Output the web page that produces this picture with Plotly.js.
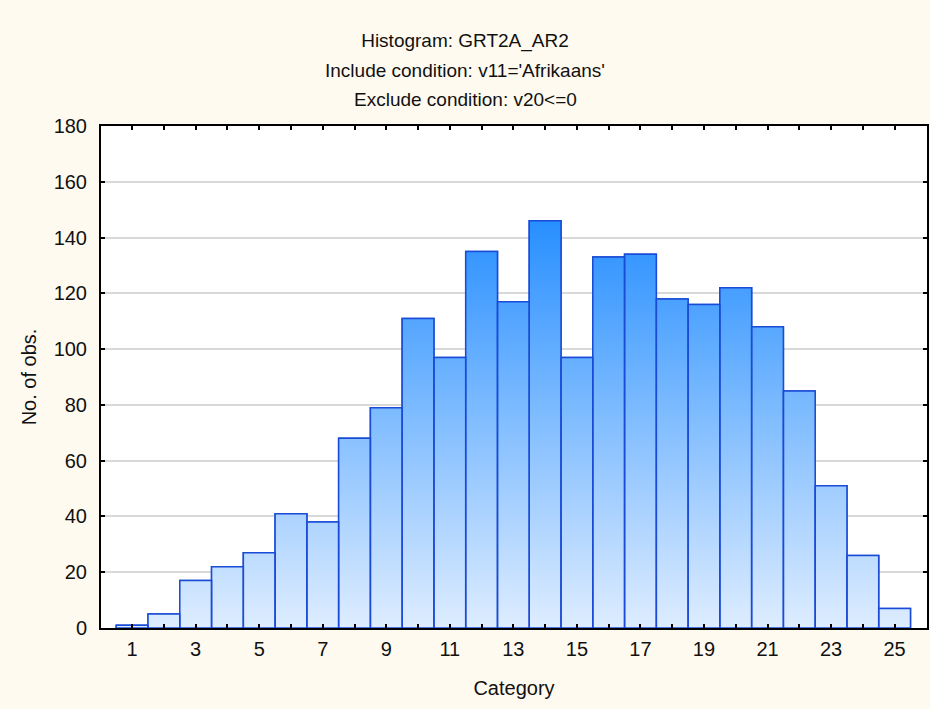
<!DOCTYPE html>
<html>
<head>
<meta charset="utf-8">
<script src="https://cdn.plot.ly/plotly-3.0.1.min.js"></script>
<style>html,body{margin:0;padding:0;background:#FFFAF0;}#chart{width:930px;height:709px;}</style>
</head>
<body>
<div id="chart"></div>
<script>
// Data
var categories = [1,2,3,4,5,6,7,8,9,10,11,12,13,14,15,16,17,18,19,20,21,22,23,24,25];
var counts = [1,5,17,22,27,41,38,68,79,111,97,135,117,146,97,133,134,118,116,122,108,85,51,26,7];
var xTickVals = categories;
var xTickText = categories.map(function(c){ return c % 2 === 1 ? String(c) : ''; });
var titleLines = ["Histogram: GRT2A_AR2", "Include condition: v11='Afrikaans'", "Exclude condition: v20<=0"];
var xTitle = "Category";
var yTitle = "No. of obs.";

// Build gradient-filled bar outlines from the data
var px = [], py = [];
for (var i = 0; i < categories.length; i++) {
  var c = categories[i], v = counts[i];
  px.push(c - 0.5, c - 0.5, c + 0.5, c + 0.5, c - 0.5, null);
  py.push(0, v, v, 0, 0, null);
}

var fillTrace = {
  type: 'scatter', mode: 'lines', x: px, y: py,
  fill: 'toself',
  fillgradient: {type: 'vertical', start: 0, stop: 146,
    colorscale: [[0, 'rgb(222,237,255)'], [1, 'rgb(40,143,255)']]},
  line: {color: 'rgb(25,75,215)', width: 1.5},
  hoverinfo: 'skip', showlegend: false, connectgaps: false
};

var barTrace = {
  type: 'bar', x: categories, y: counts, width: 1,
  marker: {color: 'rgba(0,0,0,0)', line: {color: 'rgb(25,75,215)', width: 1.5}},
  showlegend: false
};

var font = {family: 'Liberation Sans, Arial, sans-serif', size: 20, color: '#111'};
var titleFont = {family: 'Liberation Sans, Arial, sans-serif', size: 19, color: '#111'};

var layout = {
  width: 930, height: 709,
  paper_bgcolor: '#FFFAF0', plot_bgcolor: '#FFFFFF',
  margin: {l: 101, r: 3, t: 126, b: 81},
  font: font,
  showlegend: false,
  bargap: 0,
  title: {text: titleLines[0], x: 0.5, xref: 'container', xanchor: 'center',
          y: 1 - 40/709, yref: 'container', yanchor: 'middle', font: titleFont},
  annotations: [
    {text: titleLines[1], xref: 'paper', yref: 'paper', x: (465-101)/826, y: (628-70)/502,
     xanchor: 'center', yanchor: 'middle', showarrow: false, font: titleFont},
    {text: titleLines[2], xref: 'paper', yref: 'paper', x: (465-101)/826, y: (628-99)/502,
     xanchor: 'center', yanchor: 'middle', showarrow: false, font: titleFont}
  ],
  xaxis: {
    range: [0.02, 26.02], tickmode: 'array', tickvals: xTickVals, ticktext: xTickText,
    ticks: 'inside', ticklen: 4, tickwidth: 2, tickcolor: '#000',
    showline: true, linecolor: '#000', linewidth: 2, mirror: 'ticks',
    showgrid: false, zeroline: false, ticklabelstandoff: 2,
    title: {text: xTitle, font: font, standoff: 22}
  },
  yaxis: {
    range: [0, 180], dtick: 20, tick0: 0,
    ticks: 'inside', ticklen: 4, tickwidth: 2, tickcolor: '#000',
    showline: true, linecolor: '#000', linewidth: 2, mirror: 'ticks',
    showgrid: true, gridcolor: '#D9D9D9', gridwidth: 2, zeroline: false,
    ticklabelstandoff: 8,
    title: {text: yTitle, font: font, standoff: 12}
  }
};

Plotly.newPlot('chart', [fillTrace, barTrace], layout, {displayModeBar: false, staticPlot: true});
</script>
</body>
</html>
